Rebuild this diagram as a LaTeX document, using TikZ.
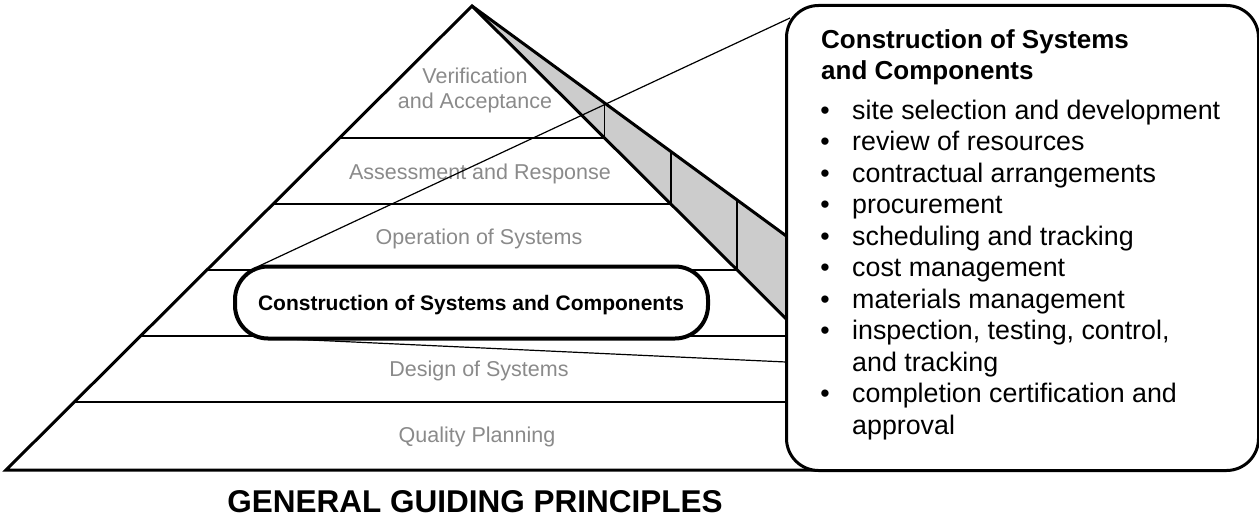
\documentclass[tikz,border=0pt]{standalone}
\usepackage{fontspec}
\setmainfont{Liberation Sans}
\definecolor{lblgray}{HTML}{8A8A8A}
\definecolor{sidegray}{HTML}{CCCCCC}
\tikzset{
  edge/.style={line width=3pt, line join=miter},
  layerline/.style={line width=2pt},
  riser/.style={line width=1.5pt},
  callline/.style={line width=1.2pt},
  lbl/.style={anchor=base, text=lblgray, inner sep=0pt, font=\fontsize{21.5}{26}\selectfont},
  boxtitle/.style={anchor=base west, inner sep=0pt, font=\bfseries\fontsize{26}{31}\selectfont},
  bullet/.style={anchor=base, inner sep=0pt, font=\fontsize{26.8}{32}\selectfont},
  item/.style={anchor=base west, inner sep=0pt, font=\fontsize{26.8}{32}\selectfont},
}
\begin{document}
\begin{tikzpicture}[x=1pt,y=-1pt]
\useasboundingbox (0,0) rectangle (1259,519);
% pyramid geometry
\coordinate (apex) at (472,6);
\coordinate (bl) at (6,470);
\coordinate (br) at (938,470);
\coordinate (ub) at (800,246);
\coordinate (rb) at (800,332.6);
% shaded side face
\fill[sidegray] (apex) -- (ub) -- (rb) -- cycle;
% layer lines
\coordinate (l1a) at (339.4,138); \coordinate (l1b) at (604.6,138);
\coordinate (l2a) at (273.1,204); \coordinate (l2b) at (670.9,204);
\coordinate (l3a) at (206.9,270); \coordinate (l3b) at (737.1,270);
\coordinate (l4a) at (140.6,336); \coordinate (l4b) at (800,336);
\coordinate (l5a) at (74.3,402);  \coordinate (l5b) at (800,402);
\draw[layerline] (l1a) -- (l1b);
\draw[layerline] (l2a) -- (l2b);
\draw[layerline] (l3a) -- (l3b);
\draw[layerline] (l4a) -- (l4b);
\draw[layerline] (l5a) -- (l5b);
% risers on shaded face
\coordinate (r1) at (604.6,103.0);
\coordinate (r2) at (670.9,151.5);
\coordinate (r3) at (737.1,199.9);
\draw[riser] (r1) -- (l1b);
\draw[riser] (r2) -- (l2b);
\draw[riser] (r3) -- (l3b);
% outline
\draw[edge] (br) -- (bl) -- (apex) -- (br);
\draw[edge] (apex) -- (ub);
% layer labels
\node[lbl] (v1) at (475,84) {Verification};
\node[lbl] (v2) at (475,109) {and Acceptance};
\node[lbl] (as) at (480,179) {Assessment and Response};
\node[lbl] (op) at (479,244.5) {Operation of Systems};
\node[lbl] (ds) at (479,376.5) {Design of Systems};
\node[lbl] (qp) at (477,442.5) {Quality Planning};
% callout connectors
\coordinate (p1) at (790,18);
\coordinate (p2) at (257,267);
\coordinate (p3) at (267,338);
\coordinate (p4) at (786,362);
\draw[callline] (p2) -- (p1);
\draw[callline] (p3) -- (p4);
% highlighted layer
\node[draw, line width=4pt, fill=white, rounded corners=33pt, minimum width=473pt, minimum height=72pt, inner sep=0pt] (cons) at (471.5,302.5) {};
\node[anchor=base, inner sep=0pt, font=\bfseries\fontsize{21}{25}\selectfont] (constext) at (471,310) {Construction of Systems and Components};
% callout box
\node[draw, line width=3pt, fill=white, rounded corners=32pt, minimum width=472pt, minimum height=465pt, inner sep=0pt, anchor=north west] (callout) at (785,4) {};
\node[boxtitle] (ct1) at (821,49) {Construction of Systems};
\node[boxtitle] (ct2) at (821,80) {and Components};
\node[bullet] (b1) at (825,119) {•};
\node[item] (i1) at (852,119) {site selection and development};
\node[bullet] (b2) at (825,150.5) {•};
\node[item] (i2) at (852,150.5) {review of resources};
\node[bullet] (b3) at (825,182) {•};
\node[item] (i3) at (852,182) {contractual arrangements};
\node[bullet] (b4) at (825,213.5) {•};
\node[item] (i4) at (852,213.5) {procurement};
\node[bullet] (b5) at (825,245) {•};
\node[item] (i5) at (852,245) {scheduling and tracking};
\node[bullet] (b6) at (825,276.5) {•};
\node[item] (i6) at (852,276.5) {cost management};
\node[bullet] (b7) at (825,308) {•};
\node[item] (i7) at (852,308) {materials management};
\node[bullet] (b8) at (825,339.5) {•};
\node[item] (i8) at (852,339.5) {inspection, testing, control,};
\node[item] (i8b) at (852,371) {and tracking};
\node[bullet] (b9) at (825,402.5) {•};
\node[item] (i9) at (852,402.5) {completion certification and};
\node[item] (i9b) at (852,434) {approval};
% caption
\node[anchor=base, inner sep=0pt, font=\bfseries\fontsize{31.5}{36}\selectfont] (title) at (475,512) {GENERAL GUIDING PRINCIPLES};
\end{tikzpicture}
\end{document}
